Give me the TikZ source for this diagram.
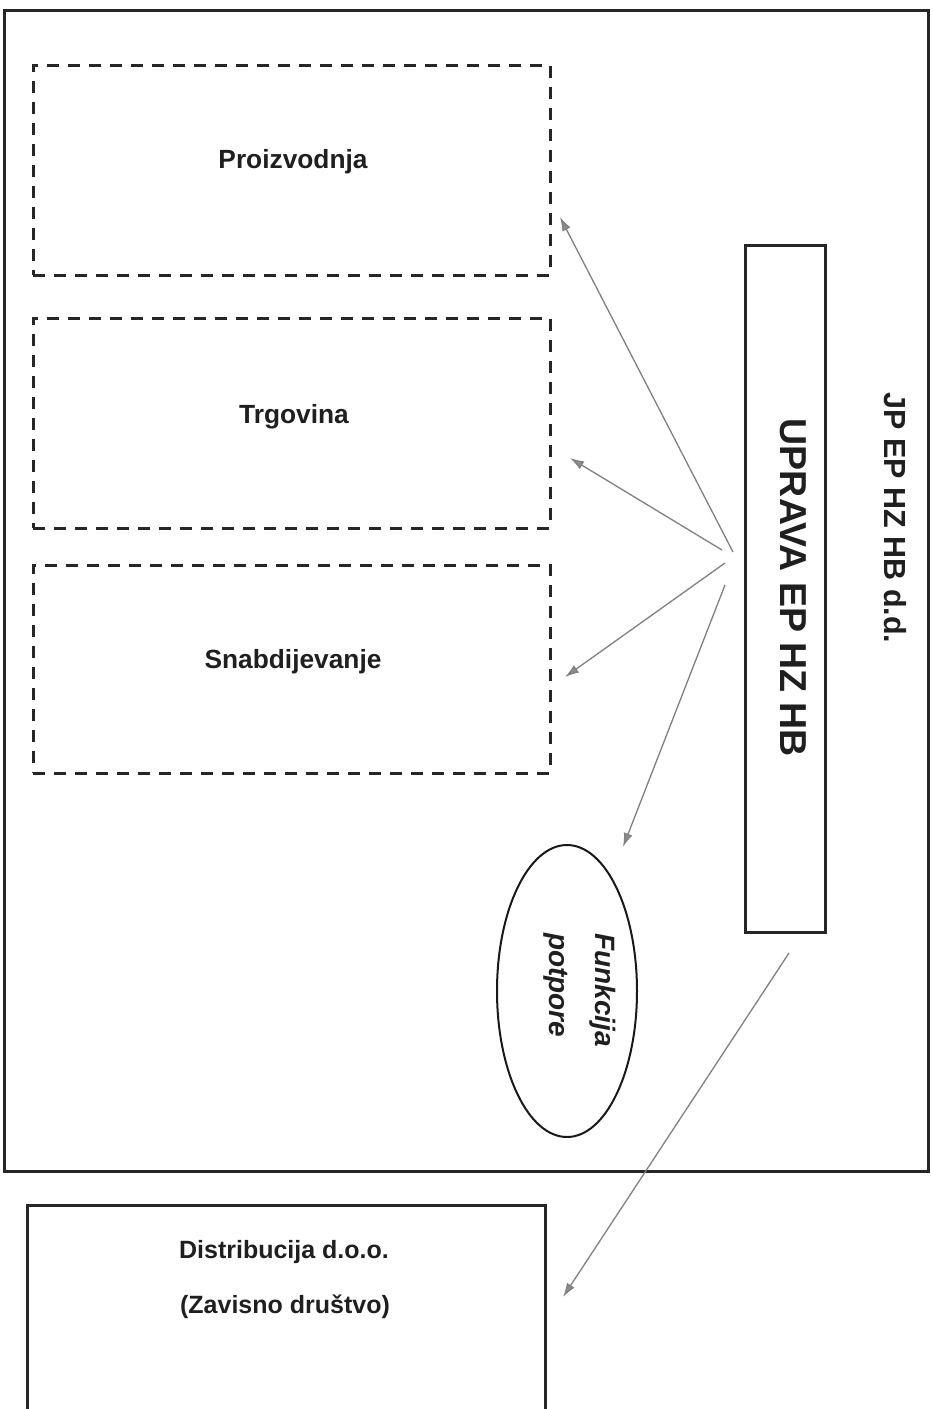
\documentclass[tikz,border=0pt]{standalone}
\usepackage{fontspec}
\setmainfont{Liberation Sans}
\usetikzlibrary{shapes.geometric,arrows.meta}
\begin{document}
\begin{tikzpicture}[x=1pt,y=-1pt,
  frame/.style={draw=black!85, line width=3pt, inner sep=0pt, outer sep=0pt},
  dashbox/.style={draw=black!85, line width=3pt, dash pattern=on 12pt off 9pt, inner sep=0pt, outer sep=0pt},
  lbl/.style={font=\bfseries\fontsize{25}{30}\selectfont, text=black!88, inner sep=0pt},
  seclbl/.style={lbl, font=\bfseries\fontsize{26.3}{30}\selectfont},
  conn/.style={draw=black!50, line width=1.3pt, -{Latex[length=14pt,width=9pt,fill=black!45]}}]
\clip[use as bounding box] (0,0) rectangle (932,1409);
\fill[white] (0,0) rectangle (932,1409);
% outer company frame
\node[frame, anchor=north west, minimum width=924pt, minimum height=1161pt] (outer) at (4,10) {};
\node[lbl, rotate=-90, font=\bfseries\fontsize{30.5}{34}\selectfont] (jp) at (895,518) {JP EP HZ HB d.d.};
% dashed sectors
\node[dashbox, minimum width=517pt, minimum height=210pt] (proiz) at (291.5,170) {};
\node[dashbox, minimum width=517pt, minimum height=210pt] (trg) at (291.5,423) {};
\node[dashbox, minimum width=517pt, minimum height=208pt] (snab) at (291.5,669) {};
\node[seclbl, anchor=base] (proizT) at (293,168) {Proizvodnja};
\node[seclbl, anchor=base] (trgT) at (294,423) {Trgovina};
\node[seclbl, anchor=base] (snabT) at (293,668) {Snabdijevanje};
% management box
\node[frame, minimum width=80pt, minimum height=687pt] (uprava) at (785,588.5) {};
\node[lbl, rotate=-90, font=\bfseries\fontsize{37.5}{42}\selectfont] (upravaT) at (793,588) {UPRAVA EP HZ HB};
% support functions
\node[draw=black!90, line width=2pt, ellipse, minimum width=140pt, minimum height=292pt, inner sep=0pt] (potp) at (567,991) {};
\node[lbl, rotate=-90, align=left, font=\bfseries\itshape\fontsize{28}{46}\selectfont] (potpT) at (580,990) {Funkcija\\potpore};
% subsidiary
\node[frame, anchor=north west, minimum width=518pt, minimum height=260pt] (dist) at (27,1205) {};
\node[lbl, anchor=base] (distT1) at (284,1258) {Distribucija d.o.o.};
\node[lbl, anchor=base] (distT2) at (285,1313) {(Zavisno društvo)};
% connectors
\coordinate (s1) at (733,552); \coordinate (t1) at (560,217);
\coordinate (s2) at (722,550); \coordinate (t2) at (570,458);
\coordinate (s3) at (725,563); \coordinate (t3) at (565,677);
\coordinate (s4) at (725,585); \coordinate (t4) at (623,847);
\coordinate (s5) at (789,953); \coordinate (t5) at (563,1297);
\draw[conn] (s1) -- (t1);
\draw[conn] (s2) -- (t2);
\draw[conn] (s3) -- (t3);
\draw[conn] (s4) -- (t4);
\draw[conn] (s5) -- (t5);
\end{tikzpicture}
\end{document}
